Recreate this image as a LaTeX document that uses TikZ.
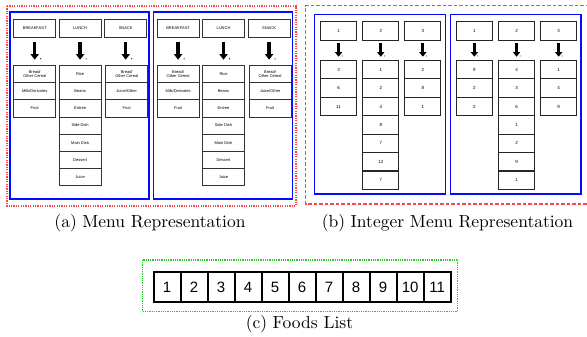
\documentclass[tikz,border=0pt]{standalone}
\usepackage{fontspec}
\newfontfamily\boxfont{Liberation Sans}
\newfontfamily\capfont{lmroman10-regular.otf}
\usetikzlibrary{arrows.meta}
\definecolor{myblue}{RGB}{10,10,250}
\definecolor{myred}{RGB}{250,70,70}
\definecolor{mygreen}{RGB}{40,200,40}
\tikzset{
 acell/.style={draw=black!80, line width=0.8pt, minimum width=42pt, minimum height=17.1pt, inner sep=0pt, anchor=north west, font=\boxfont\fontsize{4}{4.6}\selectfont, align=center},
 ahead/.style={acell, minimum height=17.7pt},
 bcell/.style={draw=black!85, line width=1.1pt, minimum width=36pt, minimum height=18.4pt, inner sep=0pt, anchor=north west, font=\boxfont\fontsize{4.5}{5}\selectfont},
 bhead/.style={bcell, minimum height=18.7pt},
 fcell/.style={draw=black, line width=1.8pt, minimum width=27pt, minimum height=29.7pt, inner sep=0pt, anchor=north west, font=\boxfont\fontsize{15}{15}\selectfont},
 aarrow/.style={line width=3.3pt, -{Triangle[width=8pt,length=5.5pt]}, shorten <=4pt, shorten >=5.6pt},
 barrow/.style={line width=2.8pt, -{Triangle[width=7pt,length=4.5pt]}, shorten <=2.6pt, shorten >=3.3pt},
 bluebox/.style={draw=myblue, line width=1.3pt},
 redA/.style={draw=myred, line width=1.3pt, dash pattern=on 1.3pt off 1.1pt},
 redB/.style={draw=myred, line width=1.5pt, dash pattern=on 3.5pt off 2pt},
 greenbox/.style={draw=mygreen, line width=1.3pt, dash pattern=on 1pt off 0.8pt},
 captext/.style={inner sep=0pt, font=\capfont\fontsize{17.5}{20}\selectfont}
}
\newcommand\mkbcol[4]{%
 \foreach \v [count=\i] in {#4} \node[bcell] (b#1-c#2\i) at (#3,{60+18.4*(\i-1)}) {\v};}
\begin{document}
\begin{tikzpicture}[x=1pt,y=-1pt]
\useasboundingbox (0,0) rectangle (587,337);
% panel (a)
\draw[redA] (7,6) rectangle (296,206);
\draw[bluebox] (10,12) rectangle (149,199);
\draw[bluebox] (153.4,12) rectangle (292.6,199);
\foreach \dx/\bx in {0/1,143.4/2}{
  \node[ahead] (a\bx-h1) at (13.3+\dx,19.3) {BREAKFAST};
  \node[ahead] (a\bx-h2) at (58.7+\dx,19.3) {LUNCH};
  \node[ahead] (a\bx-h3) at (104.3+\dx,19.3) {SNACK};
  \foreach \t [count=\i] in {{Bread/\\Other Cereal},Milk/Derivates,Fruit}
    \node[acell] (a\bx-c1\i) at (13.3+\dx,{65.3+17.1*(\i-1)}) {\t};
  \foreach \t [count=\i] in {Rice,Beans,Entree,Side Dish,Main Dish,Dessert,Juice}
    \node[acell] (a\bx-c2\i) at (58.7+\dx,{65.3+17.1*(\i-1)}) {\t};
  \foreach \t [count=\i] in {{Bread/\\Other Cereal},Juice/Other,Fruit}
    \node[acell] (a\bx-c3\i) at (105.3+\dx,{65.3+17.1*(\i-1)}) {\t};
  \foreach \k in {1,2,3}{
    \draw[aarrow] (a\bx-h\k.south) -- (a\bx-h\k.south |- a\bx-c\k1.north);
    \fill (a\bx-h\k.south |- a\bx-c\k1.north) ++(6,-6.5) circle (0.6pt);
  }
}
% panel (b)
\draw[redB] (600,5.7) -- (305.7,5.7) -- (305.7,204) -- (600,204);
\draw[bluebox] (314.7,14.3) rectangle (445.3,194);
\draw[bluebox] (450.5,14.3) rectangle (581,194);
\foreach \dx/\bx in {0/1,135.8/2}{
  \node[bhead] (b\bx-h1) at (320+\dx,21) {1};
  \node[bhead] (b\bx-h2) at (362.2+\dx,21) {2};
  \node[bhead] (b\bx-h3) at (404.3+\dx,21) {3};
}
\mkbcol{1}{1}{320}{3,6,11}
\mkbcol{1}{2}{362.2}{1,2,4,8,7,12,7}
\mkbcol{1}{3}{404.3}{2,8,1}
\mkbcol{2}{1}{455.8}{9,2,2}
\mkbcol{2}{2}{498}{4,3,6,1,2,9,1}
\mkbcol{2}{3}{540.1}{1,4,9}
\foreach \bx in {1,2}{
  \foreach \k in {1,2,3}{
    \draw[barrow] (b\bx-h\k.south) -- (b\bx-h\k.south |- b\bx-c\k1.north);
    \fill (b\bx-h\k.south |- b\bx-c\k1.north) ++(3.5,-4) circle (0.5pt);
  }
}
% panel (c)
\draw[greenbox] (142.7,260) rectangle (457.7,311.7);
\foreach \i in {1,...,11}
  \node[fcell] (f\i) at ({152.7+27*(\i-1)},271.3) {\i};
% captions
\node[captext] (capA) at (150,223.5) {(a)\hspace{5.5pt}Menu Representation};
\node[captext] (capB) at (447.5,223.5) {(b)\hspace{5.5pt}Integer Menu Representation};
\node[captext] (capC) at (299.5,324.5) {(c)\hspace{5.5pt}Foods List};
\end{tikzpicture}
\end{document}
